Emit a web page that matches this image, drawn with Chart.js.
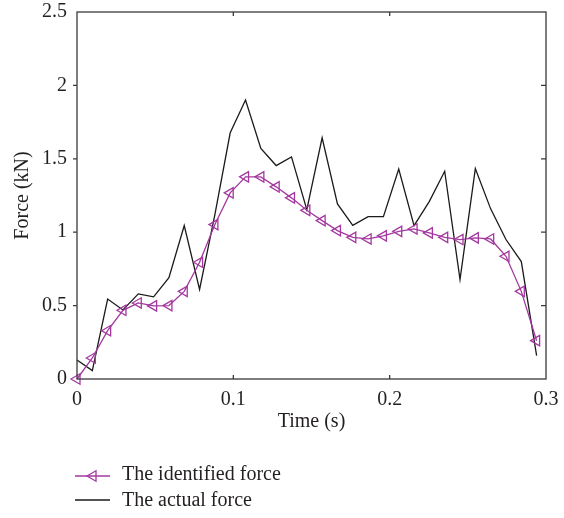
<!DOCTYPE html>
<html>
<head>
<meta charset="utf-8">
<script src="https://cdn.jsdelivr.net/npm/chart.js@4.4.1/dist/chart.umd.min.js"></script>
<style>
  html, body { margin: 0; padding: 0; background: #fff; }
  canvas { display: block; }
</style>
</head>
<body>
<canvas id="forceChart" width="564" height="518"></canvas>
<script>
// Sample times (s)
const times = [0, 0.0098, 0.0196, 0.0294, 0.0392, 0.049, 0.0588, 0.0686, 0.0784, 0.0882,
  0.098, 0.1078, 0.1176, 0.1274, 0.1372, 0.147, 0.1568, 0.1666, 0.1764, 0.1862,
  0.196, 0.2058, 0.2156, 0.2254, 0.2352, 0.245, 0.2548, 0.2646, 0.2744, 0.2842, 0.294];

// Identified force (kN)
const identifiedForce = [0.0, 0.143, 0.329, 0.468, 0.518, 0.498, 0.50, 0.597, 0.795, 1.052,
  1.268, 1.377, 1.377, 1.309, 1.234, 1.149, 1.079, 1.011, 0.965, 0.954,
  0.975, 1.006, 1.022, 0.995, 0.965, 0.95, 0.961, 0.954, 0.836, 0.597, 0.261];

// Actual force (kN)
const actualForce = [0.13, 0.057, 0.545, 0.47, 0.58, 0.56, 0.69, 1.045, 0.61, 1.12,
  1.677, 1.90, 1.57, 1.454, 1.513, 1.154, 1.643, 1.193, 1.047, 1.106,
  1.106, 1.43, 1.045, 1.21, 1.415, 0.677, 1.433, 1.159, 0.95, 0.80, 0.159];

const xTicks = [0, 0.1, 0.2, 0.3];
const yTicks = [0, 0.5, 1, 1.5, 2, 2.5];
const seriesNames = ['The identified force', 'The actual force'];

const MAGENTA = '#a3389f';
const BLACK = '#1a1a1a';
const TEXT = '#231f20';
const FONT = '"Liberation Serif", "DejaVu Serif", serif';

function toPoints(values) {
  return values.map((v, i) => ({ x: times[i], y: v }));
}

function drawTriangleLeft(ctx, x, y, r) {
  ctx.beginPath();
  ctx.moveTo(x - r, y);
  ctx.lineTo(x + r * 0.5, y - r * 0.866);
  ctx.lineTo(x + r * 0.5, y + r * 0.866);
  ctx.closePath();
  ctx.stroke();
}

// Frame, tick marks and legend
const framePlugin = {
  id: 'frame',
  afterDraw(chart) {
    const { ctx, chartArea: a, scales } = chart;
    ctx.save();
    ctx.strokeStyle = '#3a3a3a';
    ctx.lineWidth = 1.3;
    ctx.strokeRect(a.left, a.top, a.right - a.left, a.bottom - a.top);

    ctx.beginPath();
    xTicks.slice(1, -1).forEach(v => {
      const px = scales.x.getPixelForValue(v);
      ctx.moveTo(px, a.bottom); ctx.lineTo(px, a.bottom - 4);
      ctx.moveTo(px, a.top); ctx.lineTo(px, a.top + 4);
    });
    yTicks.slice(1, -1).forEach(v => {
      const py = scales.y.getPixelForValue(v);
      ctx.moveTo(a.left, py); ctx.lineTo(a.left - 4, py);
      ctx.moveTo(a.right, py); ctx.lineTo(a.right - 5, py);
    });
    ctx.stroke();

    // legend
    ctx.font = '20px ' + FONT;
    ctx.fillStyle = TEXT;
    ctx.textBaseline = 'middle';
    ctx.textAlign = 'left';

    ctx.strokeStyle = MAGENTA;
    ctx.lineWidth = 1.3;
    ctx.beginPath();
    ctx.moveTo(75, 476); ctx.lineTo(110, 476);
    ctx.stroke();
    drawTriangleLeft(ctx, 93, 476, 6);
    ctx.fillText(seriesNames[0], 122, 475);

    ctx.strokeStyle = BLACK;
    ctx.lineWidth = 1.3;
    ctx.beginPath();
    ctx.moveTo(75, 500); ctx.lineTo(110, 500);
    ctx.stroke();
    ctx.fillText(seriesNames[1], 122, 501);
    ctx.restore();
  }
};

new Chart(document.getElementById('forceChart'), {
  type: 'line',
  data: {
    datasets: [
      {
        label: seriesNames[0],
        data: toPoints(identifiedForce),
        borderColor: MAGENTA,
        backgroundColor: 'rgba(0,0,0,0)',
        borderWidth: 1.3,
        pointStyle: 'triangle',
        rotation: -90,
        pointRadius: 6,
        pointBorderWidth: 1.3,
        pointBorderColor: MAGENTA,
        pointBackgroundColor: 'rgba(0,0,0,0)',
        tension: 0,
        clip: false
      },
      {
        label: seriesNames[1],
        data: toPoints(actualForce),
        borderColor: BLACK,
        borderWidth: 1.3,
        pointRadius: 0,
        tension: 0,
        clip: false
      }
    ]
  },
  options: {
    responsive: false,
    animation: false,
    devicePixelRatio: 1,
    layout: { padding: { top: 12, right: 18, left: 0, bottom: 80 } },
    plugins: {
      legend: { display: false },
      tooltip: { enabled: false }
    },
    scales: {
      x: {
        type: 'linear',
        min: 0,
        max: 0.3,
        afterBuildTicks: (scale) => { scale.ticks = xTicks.map(v => ({ value: v })); },
        afterFit: (scale) => {
          scale.height = 59;
          scale.paddingLeft = 0;
          scale.paddingRight = 0;
        },
        grid: { display: false, drawTicks: false },
        border: { display: false },
        ticks: {
          padding: 9,
          maxRotation: 0,
          color: TEXT,
          font: { family: FONT, size: 20 },
          callback: (v) => String(Math.round(v * 10) / 10)
        },
        title: {
          display: true,
          text: 'Time (s)',
          color: TEXT,
          font: { family: FONT, size: 20 },
          padding: { top: 0, bottom: 4 }
        }
      },
      y: {
        min: 0,
        max: 2.5,
        afterBuildTicks: (scale) => { scale.ticks = yTicks.map(v => ({ value: v })); },
        afterFit: (scale) => {
          scale.width = 77;
          scale.paddingTop = 0;
          scale.paddingBottom = 0;
        },
        grid: { display: false, drawTicks: false },
        border: { display: false },
        ticks: {
          padding: 10,
          color: TEXT,
          font: { family: FONT, size: 20 },
          callback: (v) => String(Math.round(v * 10) / 10)
        },
        title: {
          display: true,
          text: 'Force (kN)',
          color: TEXT,
          font: { family: FONT, size: 20 },
          padding: { top: 11, bottom: 0 }
        }
      }
    }
  },
  plugins: [framePlugin]
});
</script>
</body>
</html>
